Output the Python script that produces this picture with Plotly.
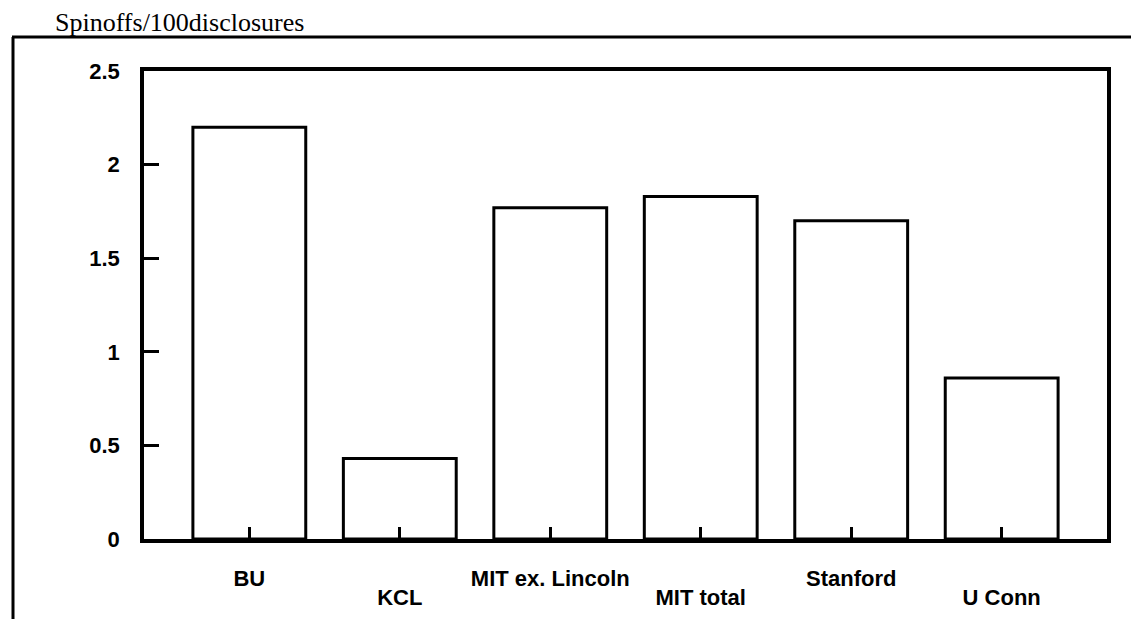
import plotly.graph_objects as go

categories = ["BU", "KCL", "MIT ex. Lincoln", "MIT total", "Stanford", "U Conn"]
values = [2.20, 0.43, 1.77, 1.83, 1.70, 0.86]
upper_labels = ["BU", "", "MIT ex. Lincoln", "", "Stanford", ""]
lower_labels = ["", "KCL", "", "MIT total", "", "U Conn"]
y_ticks = [0, 0.5, 1, 1.5, 2, 2.5]
y_tick_labels = ["0", "0.5", "1", "1.5", "2", "2.5"]
title_text = "Spinoffs/100disclosures"

# page is offset by the 8px body margin; work in page pixel coordinates
OFF = 8
W, H = 1139 - OFF, 619 - OFF
PL, PR, PT, PB = 144, 1107, 71, 539  # plot box in page px
L, T = PL - OFF, PT - OFF
R = W - (PR - OFF)
B = H - (PB - OFF)
pw, ph = W - L - R, H - T - B

def px_x(p):
    return (p - OFF - L) / pw

def px_y(p):
    return (H - B - (p - OFF)) / ph

xs = list(range(len(categories)))

fig = go.Figure()
fig.add_trace(go.Bar(
    x=xs,
    y=values,
    width=0.75,
    marker=dict(color="white", line=dict(color="black", width=3)),
    hoverinfo="y",
))

font = dict(family="Liberation Sans, Arial, sans-serif", size=22, color="black", weight="bold")

fig.update_layout(
    width=W, height=H,
    margin=dict(l=L, r=R, t=T, b=B, autoexpand=False),
    paper_bgcolor="white", plot_bgcolor="white",
    showlegend=False,
    xaxis=dict(
        range=[-0.7, 5.7],
        tickmode="array", tickvals=xs, ticktext=upper_labels,
        ticks="inside", ticklen=12, tickwidth=3, tickcolor="black",
        showline=True, linecolor="black", linewidth=3.5, mirror=True,
        showgrid=False, zeroline=False, tickfont=font, ticklabelstandoff=17,
        tickangle=0,
    ),
    xaxis2=dict(
        range=[-0.7, 5.7], overlaying="x", side="bottom", anchor="y",
        tickmode="array", tickvals=xs, ticktext=lower_labels,
        ticks="", showline=False, showgrid=False, zeroline=False,
        tickfont=font, ticklabelstandoff=43, tickangle=0,
    ),
    yaxis=dict(
        range=[0, 2.5],
        tickmode="array", tickvals=y_ticks, ticktext=y_tick_labels,
        ticks="inside", ticklen=15, tickwidth=3, tickcolor="black",
        showline=True, linecolor="black", linewidth=3.5, mirror=True,
        showgrid=False, zeroline=False, tickfont=font, ticklabelstandoff=16,
    ),
    shapes=[
        dict(type="line", xref="paper", yref="paper",
             x0=px_x(12), x1=px_x(1139), y0=px_y(37), y1=px_y(37),
             line=dict(color="black", width=3)),
        dict(type="line", xref="paper", yref="paper",
             x0=px_x(13), x1=px_x(13), y0=px_y(37), y1=px_y(619),
             line=dict(color="black", width=3)),
    ],
    annotations=[
        dict(text=title_text, xref="paper", yref="paper",
             x=px_x(54), y=px_y(38), xanchor="left", yanchor="bottom",
             showarrow=False, borderpad=0,
             font=dict(family="Liberation Serif, Times New Roman, serif", size=26, color="black")),
    ],
)

fig.add_trace(go.Scatter(x=[], y=[], xaxis="x2", yaxis="y", showlegend=False))

fig.write_html("out.html")
